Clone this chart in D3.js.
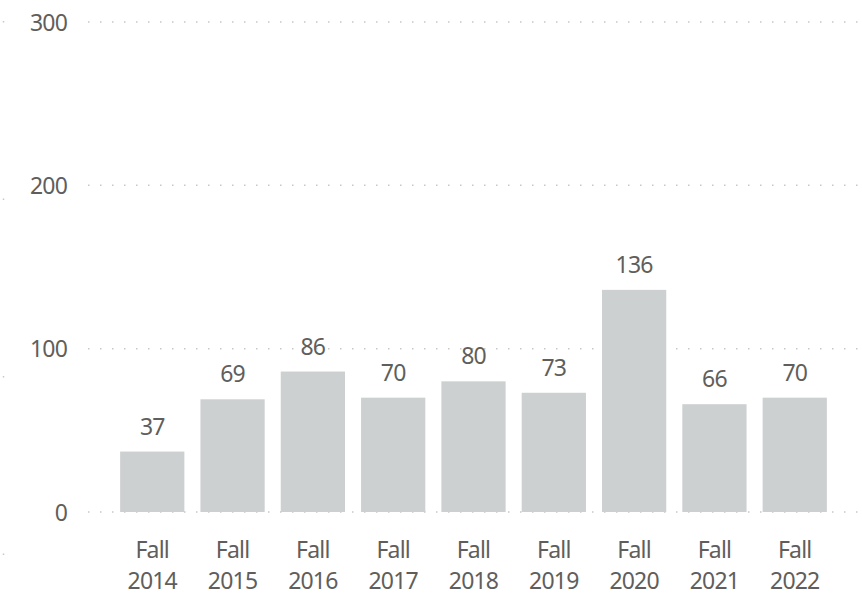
<!DOCTYPE html>
<html>
<head>
<meta charset="utf-8">
<script src="https://cdn.jsdelivr.net/npm/d3@7"></script>
<style>
    body { margin: 0; background: #fff; }
    text { font-family: "Noto Sans", "Open Sans", sans-serif; fill: #605e5c; letter-spacing: -0.8px; }
</style>
</head>
<body>
<div id="container"></div>
<script>
"use strict";

// data
const terms = ["Fall 2014", "Fall 2015", "Fall 2016", "Fall 2017", "Fall 2018",
    "Fall 2019", "Fall 2020", "Fall 2021", "Fall 2022"];
const counts = [37, 69, 86, 70, 80, 73, 136, 66, 70];
const yTicks = [0, 100, 200, 300];

const width = 862, height = 595;
const fontSize = 23;

const svg = d3.select("#container")
    .append("svg")
    .attr("width", width)
    .attr("height", height);

// scales
const x = d3.scaleBand()
    .domain(terms)
    .range([88, 859])
    .paddingInner(0.2)
    .paddingOuter(0.4);

const y = d3.scaleLinear()
    .domain([0, 300])
    .range([512, 22]);

// dotted gridlines
svg.append("g")
    .selectAll("line")
    .data(yTicks)
    .join("line")
    .attr("x1", 88)
    .attr("x2", 860)
    .attr("y1", (d) => y(d))
    .attr("y2", (d) => y(d))
    .attr("stroke", "#c8c8c8")
    .attr("stroke-width", 1.5)
    .attr("stroke-dasharray", "1.5,10.5");

// faint dots along the left edge
svg.append("line")
    .attr("x1", 3.5)
    .attr("x2", 3.5)
    .attr("y1", 21)
    .attr("y2", 560)
    .attr("stroke", "#c8c8c8")
    .attr("stroke-width", 1.5)
    .attr("stroke-dasharray", "1.5,176");

// y axis labels
const yAxis = svg.append("g")
    .attr("transform", "translate(67,0)")
    .call(d3.axisLeft(y).tickValues(yTicks).tickSize(0).tickPadding(0));
yAxis.select(".domain").remove();
yAxis.selectAll("text")
    .style("font-size", fontSize + "px")
    .style("font-family", "\"Noto Sans\", \"Open Sans\", sans-serif")
    .attr("fill", "#605e5c")
    .attr("dy", "0.36em");

// bars
svg.append("g")
    .selectAll("rect")
    .data(counts)
    .join("rect")
    .attr("x", (d, i) => x(terms[i]))
    .attr("y", (d) => y(d))
    .attr("width", x.bandwidth())
    .attr("height", (d) => y(0) - y(d))
    .attr("fill", "#cdd0d1");

// value labels
svg.append("g")
    .selectAll("text")
    .data(counts)
    .join("text")
    .attr("x", (d, i) => x(terms[i]) + x.bandwidth() / 2)
    .attr("y", (d) => y(d) - 17)
    .attr("text-anchor", "middle")
    .style("font-size", fontSize + "px")
    .text((d) => d);

// x labels, two lines
const xLabels = svg.append("g")
    .selectAll("text")
    .data(terms)
    .join("text")
    .attr("x", (d) => x(d) + x.bandwidth() / 2)
    .attr("y", 558)
    .attr("text-anchor", "middle")
    .style("font-size", fontSize + "px");
xLabels.append("tspan")
    .attr("x", (d) => x(d) + x.bandwidth() / 2)
    .text((d) => d.split(" ")[0]);
xLabels.append("tspan")
    .attr("x", (d) => x(d) + x.bandwidth() / 2)
    .attr("dy", 31)
    .text((d) => d.split(" ")[1]);
</script>
</body>
</html>
